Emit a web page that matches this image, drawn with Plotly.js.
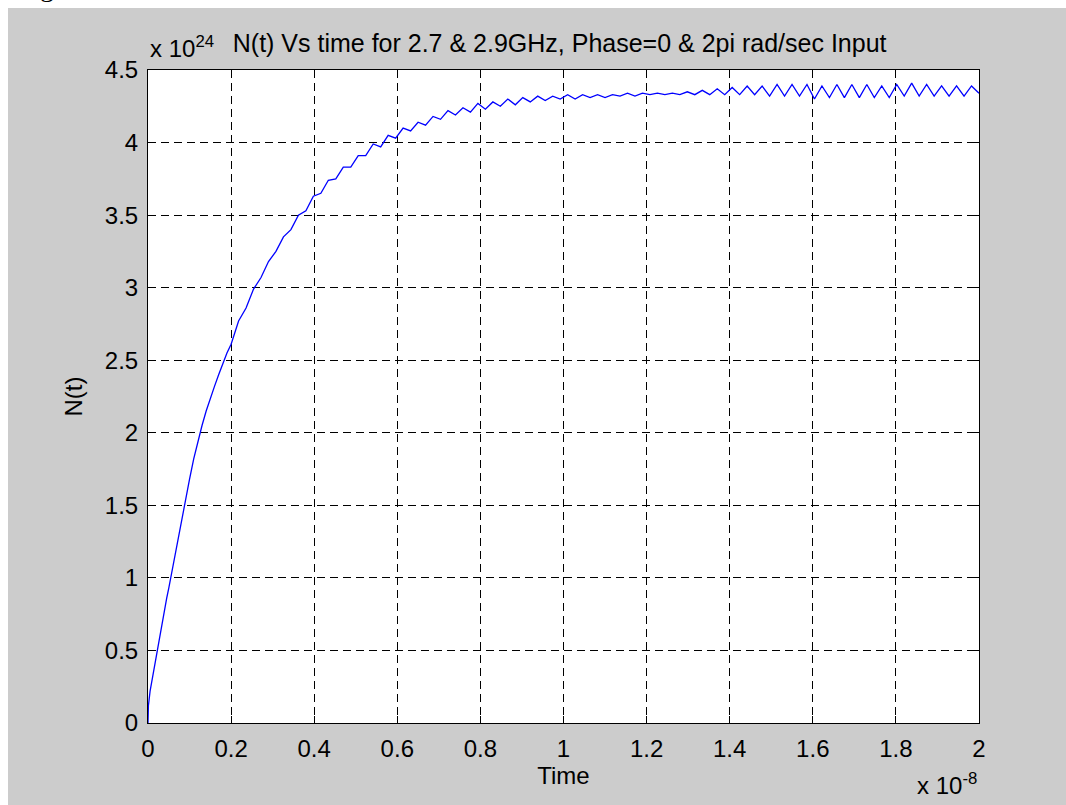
<!DOCTYPE html>
<html>
<head>
<meta charset="utf-8">
<script src="https://cdn.plot.ly/plotly-3.0.1.min.js"></script>
<style>
  html, body { margin: 0; padding: 0; background: #ffffff; overflow: hidden; }
  #bg { position: absolute; left: 8px; top: 8px; width: 1058px; height: 797px; background: #cccccc; }
  #plot { position: absolute; left: 0; top: 0; width: 1066px; height: 805px; }
</style>
</head>
<body>
<div id="bg"></div>
<div id="plot"></div>
<script>
// Time in units of 1e-8 s
var time_1e8 = [
  0, 0.001, 0.005, 0.010, 0.015, 0.020, 0.025, 0.030, 0.035, 0.040, 0.045, 0.050,
  0.060, 0.070, 0.080, 0.090, 0.100, 0.110, 0.120, 0.130, 0.140, 0.150, 0.160, 0.170, 0.180, 0.190,
  0.200, 0.218, 0.236, 0.254, 0.272, 0.290, 0.308, 0.326, 0.344, 0.362, 0.380, 0.398,
  0.416, 0.434, 0.452, 0.470, 0.488, 0.506, 0.524, 0.542, 0.560, 0.578, 0.596, 0.614,
  0.632, 0.650, 0.668, 0.686, 0.704, 0.722, 0.740, 0.758, 0.776, 0.794, 0.812, 0.830,
  0.848, 0.866, 0.884, 0.902, 0.920, 0.938, 0.956, 0.974, 0.992, 1.010, 1.028, 1.046,
  1.064, 1.082, 1.100, 1.118, 1.136, 1.154, 1.172, 1.190, 1.208, 1.226, 1.244, 1.262,
  1.280, 1.298, 1.316, 1.334, 1.352, 1.370, 1.388, 1.406, 1.424, 1.442, 1.460, 1.478,
  1.496, 1.514, 1.532, 1.550, 1.568, 1.586, 1.604, 1.622, 1.640, 1.658, 1.676, 1.694,
  1.712, 1.730, 1.748, 1.766, 1.784, 1.802, 1.820, 1.838, 1.856, 1.874, 1.892, 1.910,
  1.928, 1.946, 1.964, 1.982, 2.000
];
// N(t) in units of 1e24
var N_1e24 = [
  0, 0.12, 0.22, 0.30, 0.40, 0.48, 0.55, 0.64, 0.72, 0.80, 0.86, 0.93,
  1.08, 1.25, 1.40, 1.55, 1.68, 1.82, 1.94, 2.05, 2.15, 2.24, 2.32, 2.40, 2.48, 2.55,
  2.61, 2.77, 2.86, 2.99, 3.07, 3.18, 3.25, 3.35, 3.40, 3.50, 3.53, 3.63,
  3.65, 3.74, 3.75, 3.83, 3.83, 3.91, 3.91, 3.99, 3.97, 4.05, 4.03, 4.10,
  4.08, 4.14, 4.12, 4.18, 4.16, 4.22, 4.19, 4.24, 4.21, 4.27, 4.23, 4.28,
  4.25, 4.30, 4.26, 4.31, 4.28, 4.32, 4.29, 4.32, 4.30, 4.33, 4.30, 4.33,
  4.31, 4.33, 4.31, 4.33, 4.32, 4.34, 4.32, 4.34, 4.33, 4.34, 4.33, 4.34,
  4.33, 4.35, 4.33, 4.36, 4.33, 4.37, 4.33, 4.38, 4.33, 4.39, 4.33, 4.39,
  4.32, 4.40, 4.32, 4.40, 4.32, 4.40, 4.30, 4.39, 4.31, 4.40, 4.31, 4.40,
  4.31, 4.40, 4.31, 4.39, 4.31, 4.40, 4.32, 4.41, 4.32, 4.40, 4.32, 4.39,
  4.32, 4.39, 4.32, 4.39, 4.34
];
var xTicks = [0, 0.2, 0.4, 0.6, 0.8, 1, 1.2, 1.4, 1.6, 1.8, 2];
var xTickText = ['0', '0.2', '0.4', '0.6', '0.8', '1', '1.2', '1.4', '1.6', '1.8', '2'];
var yTicks = [0, 0.5, 1, 1.5, 2, 2.5, 3, 3.5, 4, 4.5];
var yTickText = ['0', '0.5', '1', '1.5', '2', '2.5', '3', '3.5', '4', '4.5'];

var FONT = 'Liberation Sans, Arial, Helvetica, sans-serif';

var trace = {
  x: time_1e8, y: N_1e24, type: 'scatter', mode: 'lines',
  line: { color: 'rgb(0,0,255)', width: 1.3 },
  hoverinfo: 'x+y'
};

var axisCommon = {
  showline: true, linecolor: '#000', linewidth: 1, mirror: 'ticks',
  ticks: 'inside', ticklen: 7, tickcolor: '#000', tickwidth: 1,
  showgrid: true, gridcolor: '#000', gridwidth: 1, griddash: '8px,5px',
  zeroline: false, tickfont: { family: FONT, size: 24, color: '#000' }
};

var layout = {
  width: 1066, height: 805,
  paper_bgcolor: 'rgba(0,0,0,0)', plot_bgcolor: '#ffffff',
  margin: { l: 148, r: 87, t: 70, b: 82 },
  showlegend: false,
  font: { family: FONT, color: '#000' },
  title: {
    text: 'N(t) Vs time for 2.7 & 2.9GHz, Phase=0 & 2pi rad/sec Input',
    font: { family: FONT, size: 25, color: '#000' },
    x: 0.525, xanchor: 'center', xref: 'container',
    y: 1 - 43 / 805, yanchor: 'middle', yref: 'container'
  },
  xaxis: Object.assign({}, axisCommon, {
    range: [0, 2], tickvals: xTicks, ticktext: xTickText,
    ticklabelstandoff: 4,
    title: { text: 'Time', font: { family: FONT, size: 24, color: '#000' }, standoff: 6 }
  }),
  yaxis: Object.assign({}, axisCommon, {
    range: [0, 4.5], tickvals: yTicks, ticktext: yTickText,
    ticklabelstandoff: 4,
    title: { text: 'N(t)', font: { family: FONT, size: 24, color: '#000' }, standoff: 15 }
  }),
  annotations: [
    { text: 'x 10<sup>24</sup>', xref: 'paper', yref: 'paper', x: 0, y: 1,
      xanchor: 'left', yanchor: 'bottom', yshift: 6, showarrow: false,
      font: { family: FONT, size: 24, color: '#000' } },
    { text: 'x 10<sup>-8</sup>', xref: 'paper', yref: 'paper', x: 1, y: 0,
      xanchor: 'right', yanchor: 'top', yshift: -44, showarrow: false,
      font: { family: FONT, size: 24, color: '#000' } },
    { text: 'g', xref: 'paper', yref: 'paper', x: (38 - 148) / 831, y: 1,
      xanchor: 'left', yanchor: 'bottom', yshift: 66, showarrow: false,
      font: { family: 'Liberation Serif, Times New Roman, serif', size: 28, color: '#000' } }
  ]
};

Plotly.newPlot('plot', [trace], layout, { displayModeBar: false });
</script>
</body>
</html>
